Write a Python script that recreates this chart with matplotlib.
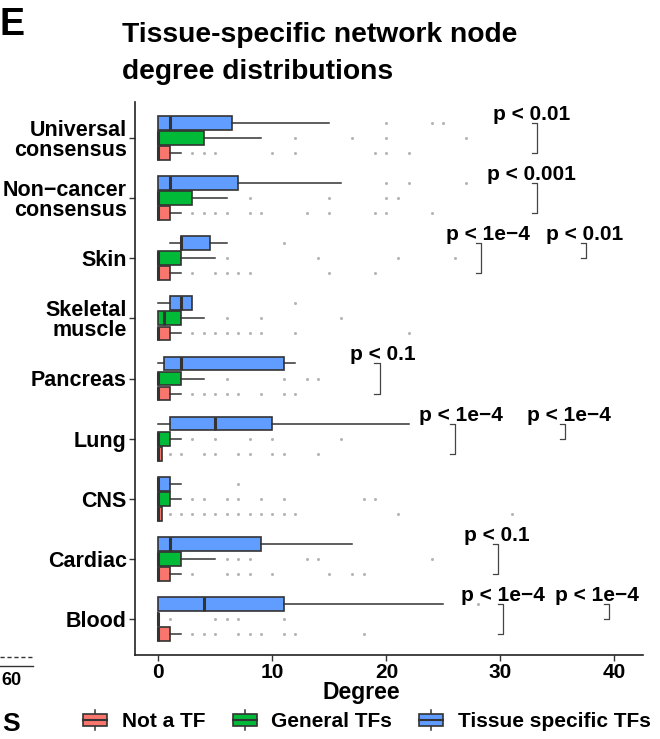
import matplotlib
matplotlib.use("Agg")
import matplotlib.pyplot as plt
from matplotlib.patches import Rectangle, Patch
from matplotlib.lines import Line2D
from matplotlib.legend_handler import HandlerBase

plt.rcParams['font.family'] = ['Liberation Sans', 'DejaVu Sans']
plt.rcParams['font.weight'] = 'bold'

# categories, top to bottom
categories = ["Universal\nconsensus", "Non\u2212cancer\nconsensus", "Skin", "Skeletal\nmuscle",
              "Pancreas", "Lung", "CNS", "Cardiac", "Blood"]
groups = ["Not a TF", "General TFs", "Tissue specific TFs"]
colors = ['#F8766D', '#00BA38', '#619CFF']
offsets = [-0.25, 0.0, 0.25]

# box stats: whislo, q1, median, q3, whishi, outliers
not_tf = [
    (0, 0, 0, 1, 2, [3, 4, 5, 10, 12, 19, 20, 22]),
    (0, 0, 0, 1, 2, [3, 4, 5, 6, 8, 9, 13, 15, 19, 20, 24]),
    (0, 0, 0, 1, 2, [3, 5, 6, 7, 8, 15, 19]),
    (0, 0, 0, 1, 2, [3, 4, 5, 6, 7, 8, 9, 12, 22]),
    (0, 0, 0, 1, 2, [3, 4, 5, 6, 7, 9, 11, 12]),
    (0, 0, 0, 0.3, 0.3, [1, 2, 4, 5, 7, 8, 10, 11, 14]),
    (0, 0, 0, 0.3, 0.3, [1, 2, 3, 4, 5, 6, 7, 8, 9, 10, 11, 12, 21, 31]),
    (0, 0, 0, 1, 2, [3, 6, 7, 8, 10, 15, 17, 18]),
    (0, 0, 0, 1, 2, [3, 4, 5, 7, 8, 9, 11, 12, 18]),
]
general_tf = [
    (0, 0, 0, 4, 9, [12, 17, 20, 27]),
    (0, 0, 0, 3, 6, [8, 15, 20, 21]),
    (0, 0, 0, 2, 5, [6, 14, 21, 26]),
    (0, 0, 0.5, 2, 4, [6, 9, 16]),
    (0, 0, 0, 2, 4, [6, 11, 13, 14]),
    (0, 0, 0, 1, 2, [3, 5, 8, 10, 16]),
    (0, 0, 0, 1, 2, [3, 4, 6, 7, 9, 11, 18, 19]),
    (0, 0, 0, 2, 5, [6, 7, 8, 13, 14, 24]),
    (0, 0, 0, 0, 0, [1, 5, 6, 7, 11]),
]
tissue_tf = [
    (0, 0, 1, 6.5, 15, [20, 24, 25]),
    (0, 0, 1, 7, 16, [20, 22, 27]),
    (1, 2, 2, 4.5, 6, [11]),
    (0, 1, 2, 3, 3, [12]),
    (0, 0.5, 2, 11, 12, []),
    (0, 1, 5, 10, 22, []),
    (0, 0, 0, 1, 2, [7]),
    (0, 0, 1, 9, 17, []),
    (0, 0, 4, 11, 25, [28]),
]
group_stats = [not_tf, general_tf, tissue_tf]

# significance brackets: category, lower group, x, label, label x
brackets = [
    ("Universal\nconsensus", 0, 33.2, "p < 0.01", 32.7),
    ("Non\u2212cancer\nconsensus", 0, 33.2, "p < 0.001", 32.7),
    ("Skin", 0, 28.3, "p < 1e\u22124", 28.9),
    ("Skin", 1, 37.5, "p < 0.01", 37.4),
    ("Pancreas", 0, 19.4, "p < 0.1", 19.7),
    ("Lung", 0, 26.0, "p < 1e\u22124", 26.5),
    ("Lung", 1, 35.7, "p < 1e\u22124", 36.0),
    ("Cardiac", 0, 29.8, "p < 0.1", 29.7),
    ("Blood", 0, 30.2, "p < 1e\u22124", 30.25),
    ("Blood", 1, 39.5, "p < 1e\u22124", 38.5),
]

n = len(categories)
ypos = {c: n - i for i, c in enumerate(categories)}

fig = plt.figure(figsize=(6.6, 7.39), dpi=100)
ax = fig.add_axes([135 / 660, 1 - 655 / 739, 508 / 660, 553 / 739])

for stats, col, off in zip(group_stats, colors, offsets):
    bxp_stats = []
    for (lo, q1, med, q3, hi, fl) in stats:
        bxp_stats.append(dict(whislo=lo, q1=q1, med=med, q3=q3, whishi=hi, fliers=fl))
    pos = [ypos[c] + off for c in categories]
    ax.bxp(bxp_stats, positions=pos, widths=0.23, orientation='horizontal',
           patch_artist=True, showcaps=False, manage_ticks=False,
           boxprops=dict(facecolor=col, edgecolor='#333333', linewidth=1.2),
           medianprops=dict(color='#333333', linewidth=2.2, solid_capstyle='butt'),
           whiskerprops=dict(color='#333333', linewidth=1.1),
           flierprops=dict(marker='o', markersize=2.2, markerfacecolor='#b5b5b5',
                           markeredgecolor='none'))

for cat, g_low, x, lab, lx in brackets:
    y_top = ypos[cat] + offsets[2]
    y_bot = ypos[cat] + offsets[g_low]
    ax.plot([x - 0.45, x, x, x - 0.45], [y_top, y_top, y_bot, y_bot],
            color='#444444', lw=0.9)
    ax.text(lx, y_top + 0.05, lab, ha='center', va='baseline', fontsize=15,
            fontweight='bold')

ax.set_xlim(-2.04, 42.5)
ax.set_ylim(0.4, 9.6)
ax.set_yticks([ypos[c] for c in categories])
ax.set_yticklabels(categories, fontsize=15.5, fontweight='bold', linespacing=0.95)
ax.set_xticks([0, 10, 20, 30, 40])
ax.set_xticklabels(['0', '10', '20', '30', '40'], fontsize=15, fontweight='bold')
ax.tick_params(length=4, width=1, color='#333333', pad=2)
for s in ['top', 'right']:
    ax.spines[s].set_visible(False)
for s in ['left', 'bottom']:
    ax.spines[s].set_linewidth(1.2)
    ax.spines[s].set_color('#222222')
ax.set_xlabel('Degree', fontsize=16.5, fontweight='bold')
ax.xaxis.set_label_coords(0.445, -0.047)

# titles
fig.text(122 / 660, 1 - 42 / 739, 'Tissue-specific network node', fontsize=20.3,
         fontweight='bold', va='baseline')
fig.text(122 / 660, 1 - 79 / 739, 'degree distributions', fontsize=20.3,
         fontweight='bold', va='baseline')
fig.text(0.0, 1 - 35 / 739, 'E', fontsize=27, fontweight='bold', va='baseline')

# bits of the neighbouring panel cut off at the left edge
fig.text(1 / 660, 1 - 685 / 739, '60', fontsize=13, fontweight='bold', ha='left',
         va='baseline')
fig.text(2 / 660, 1 - 731 / 739, 'S', fontsize=19, fontweight='bold', va='baseline')
fig.add_artist(Line2D([0, 33 / 660], [1 - 657 / 739] * 2, color='#333333', lw=1,
                      linestyle=(0, (3, 2))))
fig.add_artist(Line2D([0, 33 / 660], [1 - 666 / 739] * 2, color='#333333', lw=1))


class BoxHandler(HandlerBase):
    def create_artists(self, legend, orig_handle, xdescent, ydescent, width, height,
                       fontsize, trans):
        fc = orig_handle.get_facecolor()
        x0, y0 = -xdescent, -ydescent
        cx = x0 + width / 2
        whisk = Line2D([cx, cx], [y0 - 0.1 * height, y0 + 1.1 * height],
                       color='#333333', lw=1.1, transform=trans)
        rect = Rectangle((x0, y0 + 0.12 * height), width, 0.76 * height, facecolor=fc,
                         edgecolor='#333333', lw=1.2, transform=trans)
        med = Line2D([x0, x0 + width], [y0 + height / 2] * 2, color='#333333', lw=1.5,
                     transform=trans)
        return [whisk, rect, med]


handles = [Patch(facecolor=c) for c in colors]
fig.legend(handles, groups, loc='center', bbox_to_anchor=(367 / 660, 1 - 721.5 / 739),
           ncol=3, frameon=False, handler_map={Patch: BoxHandler()},
           handlelength=1.15, handleheight=0.85, handletextpad=0.7, columnspacing=1.3,
           prop=dict(weight='bold', size=15))

fig.savefig('out.png', dpi=100)
